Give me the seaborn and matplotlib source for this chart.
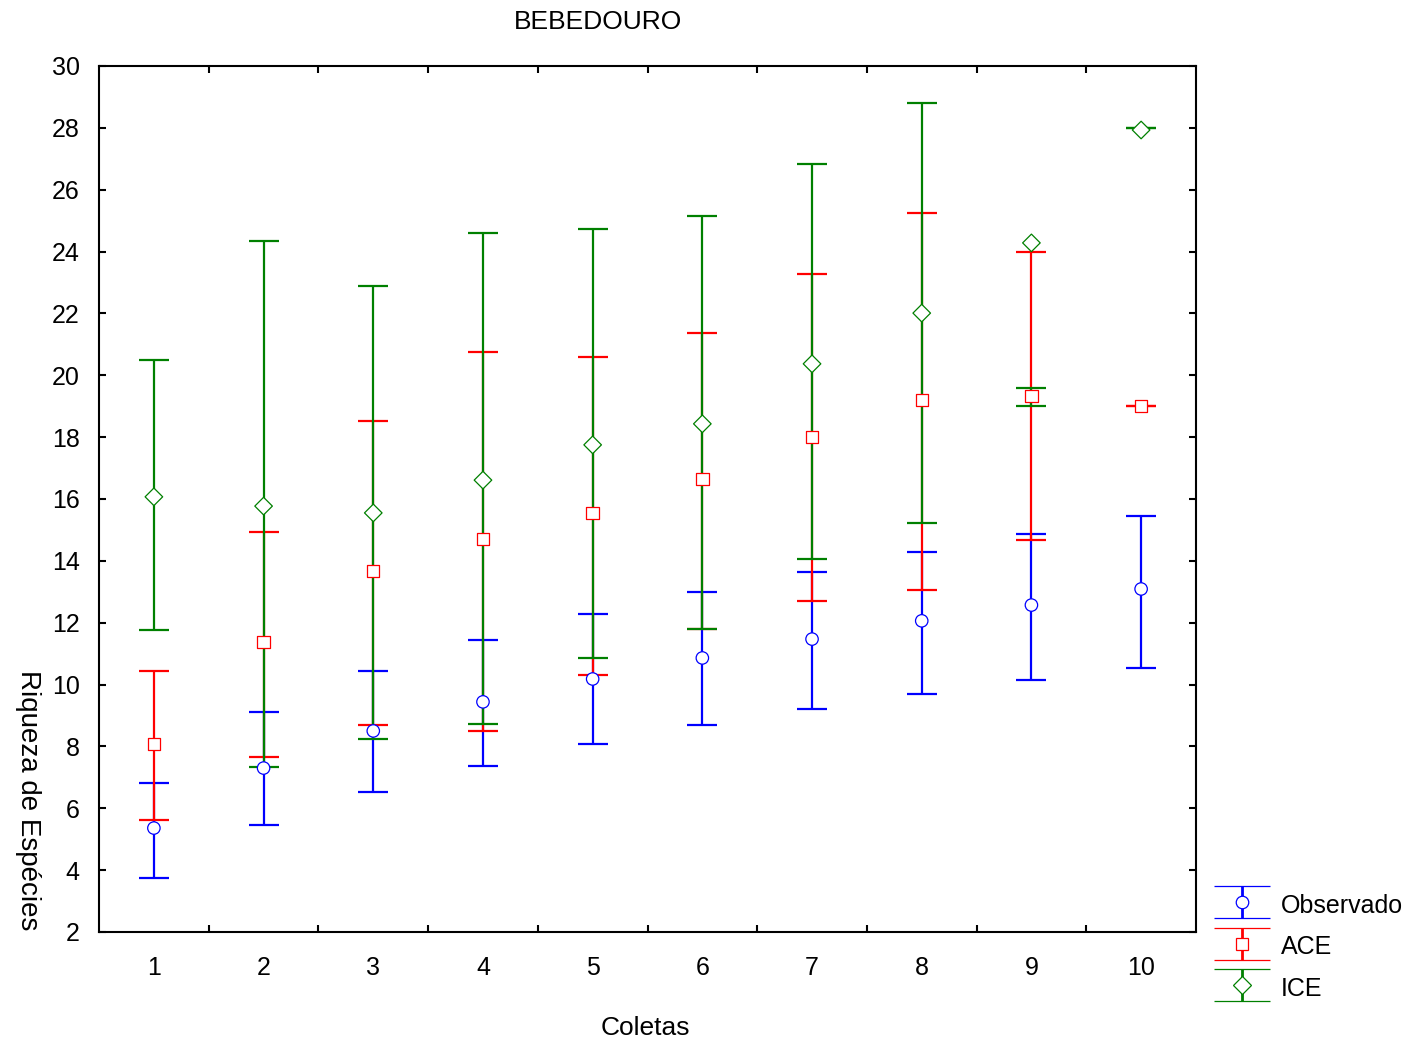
import matplotlib
matplotlib.use("Agg")
import matplotlib.pyplot as plt
import seaborn as sns
import pandas as pd
from matplotlib.legend_handler import HandlerErrorbar
from matplotlib.container import ErrorbarContainer
from matplotlib.ticker import FixedLocator

coletas = [1, 2, 3, 4, 5, 6, 7, 8, 9, 10]

obs_media = [5.36, 7.30, 8.50, 9.44, 10.18, 10.86, 11.47, 12.06, 12.57, 13.09]
obs_inf = [3.75, 5.46, 6.53, 7.37, 8.08, 8.69, 9.21, 9.70, 10.15, 10.54]
obs_sup = [6.82, 9.11, 10.44, 11.44, 12.28, 12.99, 13.64, 14.29, 14.87, 15.45]

ace_media = [8.08, 11.38, 13.67, 14.71, 15.55, 16.65, 18.00, 19.20, 19.33, 19.01]
ace_inf = [5.62, 7.66, 8.69, 8.50, 10.31, 11.80, 12.70, 13.06, 14.68, 19.01]
ace_sup = [10.44, 14.93, 18.52, 20.75, 20.59, 21.37, 23.28, 25.25, 23.99, 19.01]

ice_media = [16.07, 15.77, 15.55, 16.61, 17.75, 18.43, 20.37, 22.01, 24.28, 27.93]
ice_inf = [11.77, 7.34, 8.24, 8.73, 10.86, 11.80, 14.06, 15.22, 19.00, 28.00]
ice_sup = [20.49, 24.34, 22.89, 24.60, 24.73, 25.15, 26.83, 28.80, 19.59, 28.00]

series = ["Observado", "ACE", "ICE"]
cores = {"Observado": "#0000ff", "ACE": "#ff0000", "ICE": "#008000"}
marcadores = {"Observado": "o", "ACE": "s", "ICE": "D"}

sns.set_style("ticks")
plt.rcParams['font.family'] = ['Liberation Sans', 'DejaVu Sans']
plt.rcParams['text.color'] = 'black'
plt.rcParams['xtick.color'] = 'black'
plt.rcParams['ytick.color'] = 'black'
plt.rcParams['axes.edgecolor'] = 'black'

dados = {
    "Observado": (obs_media, obs_inf, obs_sup),
    "ACE": (ace_media, ace_inf, ace_sup),
    "ICE": (ice_media, ice_inf, ice_sup),
}

linhas = []
for s in series:
    m, lo, hi = dados[s]
    for c, v in zip(coletas, m):
        linhas.append({"Coletas": c, "Serie": s, "Riqueza": v})
df = pd.DataFrame(linhas)

fig = plt.figure(figsize=(14.15, 10.44), dpi=100)
ax = fig.add_axes([0.07, 0.1073, 0.7752, 0.8295])

for s in series:
    m, lo, hi = dados[s]
    # bars drawn from the interval; mean can fall outside it (coleta 9 ICE)
    mid = [(a + b) / 2 for a, b in zip(lo, hi)]
    half = [(b - a) / 2 for a, b in zip(lo, hi)]
    ax.errorbar(coletas, mid, yerr=half, fmt="none", ecolor=cores[s],
                elinewidth=1.6, capsize=11, capthick=1.6, zorder=2)

sns.scatterplot(data=df, x="Coletas", y="Riqueza", hue="Serie", style="Serie",
                palette=cores, markers=marcadores, s=80,
                linewidth=0.9, legend=False, ax=ax, zorder=3)
pts = ax.collections[-1]
pts.set_facecolor("white")
pts.set_edgecolor([cores[s] for s in df["Serie"]])

ax.set_xlim(0.5, 10.5)
ax.set_ylim(2, 30)
ax.set_yticks(range(2, 31, 2))
ax.set_xticks(coletas)
ax.xaxis.set_minor_locator(FixedLocator([x + 0.5 for x in coletas[:-1]]))
ax.tick_params(axis="x", which="major", length=0, pad=17, labelsize=18)
ax.tick_params(axis="x", which="minor", direction="in", length=5, width=1.5,
               top=True, bottom=True)
ax.tick_params(axis="y", direction="in", length=5, width=1.5, left=True,
               right=True, pad=14, labelsize=18)
for sp in ax.spines.values():
    sp.set_linewidth(1.5)
ax.set_xlabel("")
ax.set_ylabel("")

fig.text(0.4226, 0.979, "BEBEDOURO", ha="center", va="center", fontsize=19)
fig.text(0.456, 0.015, "Coletas", ha="center", va="center", fontsize=19)
fig.text(0.02, 0.234, "Riqueza de Espécies", ha="center", va="center",
         rotation=270, fontsize=20)

# legend handles
dummy = fig.add_axes([0, 0, 0.01, 0.01])
dummy.set_visible(False)
handles = []
for s in series:
    h = dummy.errorbar([0], [0], yerr=[1], fmt=marcadores[s], color=cores[s],
                       mfc="white", mec=cores[s], ms=9, mew=0.9,
                       elinewidth=2.0, capsize=20, capthick=2.0)
    handles.append(h)
fig.legend(handles, series, loc="upper left",
           bbox_to_anchor=(1208 / 1415, 1 - 882 / 1044), frameon=False,
           fontsize=18, handlelength=1.9, handleheight=1.15, labelspacing=0.62,
           handletextpad=0.62, borderaxespad=0,
           handler_map={ErrorbarContainer: HandlerErrorbar(xerr_size=0.5, yerr_size=0.64)})

fig.savefig("out.png", dpi=100, facecolor="white")
